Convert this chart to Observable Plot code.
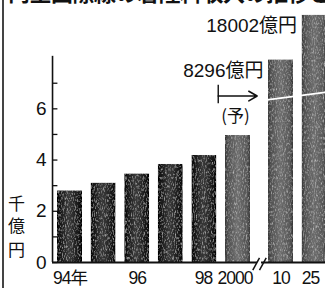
<!DOCTYPE html>
<html><head><meta charset="utf-8">
<script src="https://cdn.jsdelivr.net/npm/d3@7"></script>
<script src="https://cdn.jsdelivr.net/npm/@observablehq/plot@0.6"></script>
<style>
body{margin:0;background:#fff;}
#wrap{position:relative;width:325px;height:288px;overflow:hidden;background:#fff;}
#title{position:absolute;left:8px;top:-25px;font:bold 22px "Noto Sans CJK JP",sans-serif;white-space:nowrap;color:#111;letter-spacing:-0.5px;z-index:2}
#border{position:absolute;left:2px;top:0;width:2px;height:288px;background:#444;z-index:2}
#chart{position:absolute;left:0;top:0}
</style></head><body>
<div id="wrap"><div id="title">内空国際線の着陸料収入の推移と見通</div><div id="border"></div><div id="chart"></div></div>
<script>
// data (千億円)
const categories = ["94年","95","96","97","98","2000","10","25"];
const tickLabels = ["94年","","96","","98","2000","10","25"];
const values = [2.8, 3.1, 3.46, 3.83, 4.18, 4.96, 8.296, 18.002];
const forecast = [false, false, false, false, false, true, true, true];
const broken = [false, false, false, false, false, false, true, true];
const yTicks = [0, 2, 4, 6];
const yMinor = [1, 3, 5, 7];
const valueLabels = ["", "", "", "", "", "", "8296億円", "18002億円"];
const unitLabel = ["千", "億", "円"];
const forecastLabel = "(予)";

// layout helpers
const gapAfter = 5;          // axis break after 2000
const gapSize = 0.28;
const pos = i => i + (i > gapAfter ? gapSize : 0);
const display = v => v <= 7 ? v : 7 + 0.8 * Math.sqrt(v - 7); // compressed (broken) bars
const half = 0.372;
const idx = categories.map((_, i) => i);
const axisPos = -0.52;
const breakX = (pos(gapAfter) + pos(gapAfter + 1)) / 2;
const arrowY = 6.5;
const labelShift = [0, 0, 0, 0, -1, -3, 0, -4];

const font = '"Liberation Sans","Noto Sans CJK JP",sans-serif';

const rows = idx.map(i => ({i, cat: categories[i], v: values[i], d: display(values[i]), x1: pos(i) - half, x2: pos(i) + half, fc: forecast[i], br: broken[i]}));

const chart = Plot.plot({
  width: 325, height: 288,
  marginTop: 0, marginBottom: 26, marginLeft: 52, marginRight: 0,
  x: {type: "linear", domain: [0, pos(7)], range: [69.5, 314.1], axis: null},
  y: {domain: [0, 10.23], range: [262, 0], axis: null},
  style: {background: "transparent", overflow: "visible"},
  marks: [
    Plot.rectY(rows.filter(r => !r.fc), {x1: "x1", x2: "x2", y1: 0, y2: "d", fill: "url(#gDark)", ariaLabel: () => "bar"}),
    Plot.rectY(rows.filter(r => r.fc), {x1: "x1", x2: "x2", y1: 0, y2: "d", fill: "url(#gLight)", ariaLabel: () => "bar"}),
    // break lines across broken bars
    Plot.link([0], {x1: pos(6) - half - 0.05, x2: pos(7) + half + 0.05, y1: 6.35, y2: 6.66, stroke: "white", strokeWidth: 1.6}),
    // y axis
    Plot.ruleX([axisPos], {y1: 0, y2: 8.05, stroke: "#111", strokeWidth: 1.6}),
    Plot.ruleY([...yTicks, ...yMinor], {y: d => d, x1: axisPos, x2: axisPos + 0.16, stroke: "#111", strokeWidth: 1.3}),
    Plot.text(yTicks, {y: d => d, frameAnchor: "left", text: d => String(d), textAnchor: "end", dx: -6, fontSize: 19, fontFamily: font, fill: "#111"}),
    Plot.text(unitLabel, {frameAnchor: "left", y: (d, i) => [2.25, 1.4, 0.45][i], text: d => d, textAnchor: "middle", dx: -36, fontSize: 17, fontFamily: '"Noto Sans CJK JP"', fill: "#111"}),
    // baseline
    Plot.ruleY([0], {x1: axisPos, x2: pos(7) + 0.5, stroke: "#111", strokeWidth: 2}),
    // axis break mark
    Plot.rectY([0], {x1: breakX - 0.06, x2: breakX + 0.06, y1: -0.08, y2: 0.08, fill: "white"}),
    Plot.link([-0.1, 0.1], {x1: d => breakX + d - 0.1, x2: d => breakX + d + 0.1, y1: -0.3, y2: 0.18, stroke: "#111", strokeWidth: 1.5}),
    // x labels
    ...idx.map(i => Plot.text([tickLabels[i]], {x: pos(i), y: 0, text: d => d, dy: 16, dx: labelShift[i], fontSize: 17.5, fontFamily: font, fill: "#111", ariaLabel: () => "xlab"})),
    // value labels on broken bars
    Plot.text(rows.filter(r => r.br), {x: "x1", y: "d", text: r => valueLabels[r.i], textAnchor: "end", dx: -5, dy: 11, fontSize: 19, fontFamily: font, fill: "#111"}),
    // forecast arrow
    Plot.ruleX([pos(4) + half + 0.04], {y1: arrowY - 0.3, y2: arrowY + 0.42, stroke: "#111", strokeWidth: 1.4}),
    Plot.arrow([0], {x1: pos(4) + half + 0.04, x2: breakX - 0.07, y1: arrowY, y2: arrowY, stroke: "#111", strokeWidth: 1.6, headLength: 9}),
    Plot.text([forecastLabel], {x: (pos(4) + half + breakX) / 2 - 0.08, y: arrowY - 0.82, text: d => d, fontSize: 17, fontFamily: '"Noto Sans CJK JP"', fill: "#111"})
  ]
});

const svg = d3.select(chart);
const defs = svg.insert("defs", ":first-child");
function grad(id, stops) {
  const g = defs.append("linearGradient").attr("id", id).attr("x1", "0").attr("x2", "1").attr("y1", "0").attr("y2", "0");
  stops.forEach(([o, c]) => g.append("stop").attr("offset", o).attr("stop-color", c));
}
grad("gDark", [[0, "#000"], [0.12, "#161616"], [0.45, "#3c3c3c"], [0.6, "#333"], [0.88, "#151515"], [1, "#000"]]);
grad("gLight", [[0, "#383838"], [0.12, "#555"], [0.5, "#727272"], [0.88, "#5a5a5a"], [1, "#383838"]]);
// grain texture like the printed halftone
const f = defs.append("filter").attr("id", "grain").attr("x", 0).attr("y", 0).attr("width", 1).attr("height", 1);
f.append("feTurbulence").attr("type", "fractalNoise").attr("baseFrequency", "0.9 0.35").attr("numOctaves", 2).attr("seed", 4).attr("result", "noise");
f.append("feColorMatrix").attr("in", "noise").attr("type", "saturate").attr("values", 0).attr("result", "gn");
f.append("feBlend").attr("in", "SourceGraphic").attr("in2", "gn").attr("mode", "overlay").attr("result", "b");
f.append("feComposite").attr("in", "b").attr("in2", "SourceGraphic").attr("operator", "in");
svg.selectAll('[aria-label="bar"]').attr("filter", "url(#grain)");
svg.selectAll('[aria-label="xlab"]').style("letter-spacing", "-1px");
document.getElementById("chart").appendChild(chart);
</script>
</body></html>
